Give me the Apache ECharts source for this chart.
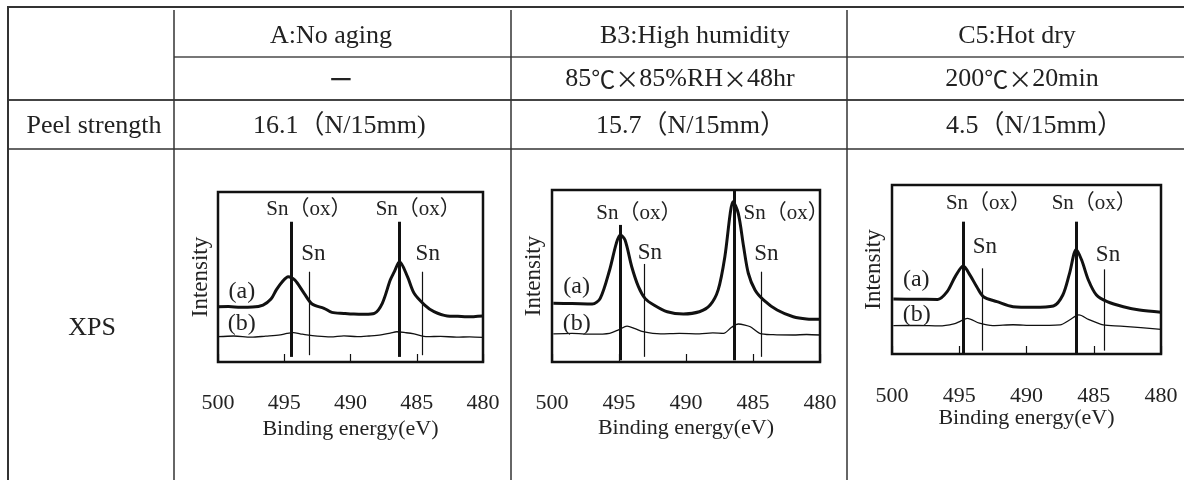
<!DOCTYPE html>
<html><head><meta charset="utf-8">
<script src="https://cdn.jsdelivr.net/npm/echarts@6/dist/echarts.min.js"></script>
<style>html,body{margin:0;padding:0;background:#fff}#c{width:1184px;height:480px}</style>
</head><body><div id="c"></div><script>
// ---------- table content ----------
const columnTitles = ['A:No aging', 'B3:High humidity', 'C5:Hot dry'];
const conditions = ['—', '85℃×85%RH×48hr', '200℃×20min'];
const peelLabels = ['16.1（N/15mm)', '15.7（N/15mm）', '4.5（N/15mm）'];
const rowTitles = ['Peel strength', 'XPS'];
const xTicks = [480, 485, 490, 495, 500];

// ---------- XPS spectra: binding energy (eV) / intensity (a.u.) ----------
const A_aE = [500.0, 499.2, 498.3, 497.4, 496.6, 496.0, 495.6, 495.15, 494.7, 494.2, 493.5, 492.9, 492.0, 491.4, 490.5, 489.75, 488.9, 488.2, 487.6, 487.0, 486.7, 486.3, 485.7, 485.2, 484.4, 483.7, 482.7, 481.9, 481.2, 480.0];
const A_aI = [32.5, 32.6, 32.2, 32.3, 33.5, 37.0, 42.4, 47.2, 50.2, 48.2, 40.4, 34.1, 31.6, 29.2, 28.6, 28.2, 28.1, 28.6, 34.5, 48.2, 53.0, 59.0, 50.2, 40.4, 33.5, 29.6, 27.1, 26.9, 26.6, 27.1];
const A_bE = [500.0, 498.8, 497.5, 496.4, 495.3, 494.8, 494.3, 493.8, 493.3, 492.5, 491.5, 490.5, 489.5, 488.6, 487.7, 487.0, 486.5, 485.8, 485.2, 484.2, 483.2, 482.0, 481.0, 480.0];
const A_bI = [14.9, 15.3, 14.6, 15.2, 15.9, 16.8, 17.3, 16.6, 15.9, 15.2, 14.8, 15.4, 14.9, 15.3, 15.9, 17.0, 17.8, 17.2, 16.5, 14.9, 15.1, 14.6, 14.8, 14.5];

const B_aE = [499.9, 498.5, 497.0, 496.4, 495.7, 495.2, 494.9, 494.55, 494.05, 493.55, 493.06, 492.4, 491.4, 490.2, 489.0, 488.2, 487.6, 487.1, 486.7, 486.5, 486.1, 485.7, 485.35, 484.85, 484.2, 483.2, 482.0, 481.0, 480.0];
const B_aI = [34.1, 34.0, 33.7, 37.0, 53.5, 69.0, 73.8, 70.9, 55.4, 43.8, 37.0, 33.1, 29.2, 27.9, 29.2, 33.1, 41.9, 61.2, 86.4, 93.2, 86.4, 67.0, 51.6, 41.9, 36.0, 30.2, 26.3, 25.0, 24.8];
const B_bE = [499.9, 498.5, 497.0, 495.7, 495.0, 494.4, 493.8, 493.2, 491.9, 490.5, 489.0, 488.0, 487.2, 486.6, 486.1, 485.6, 485.2, 484.5, 483.5, 482.0, 481.0, 480.0];
const B_bI = [16.3, 16.6, 16.2, 16.7, 18.8, 20.9, 19.4, 17.6, 16.3, 16.6, 16.4, 16.9, 16.7, 20.2, 22.1, 21.5, 20.5, 16.7, 15.9, 15.7, 16.0, 15.7];

const C_aE = [499.9, 498.2, 496.6, 495.9, 495.3, 494.7, 494.2, 493.7, 493.2, 492.2, 491.0, 489.5, 488.0, 487.3, 486.8, 486.3, 485.9, 485.4, 484.8, 484.0, 482.8, 481.6, 480.0];
const C_aI = [32.5, 32.4, 32.3, 36.9, 45.8, 52.1, 46.7, 39.8, 33.9, 31.0, 28.0, 27.6, 28.4, 34.9, 47.7, 61.9, 55.6, 43.8, 34.9, 31.0, 28.0, 26.0, 24.7];
const C_bE = [499.9, 498.0, 496.5, 495.4, 494.9, 494.4, 493.5, 492.5, 491.0, 489.5, 487.5, 486.8, 486.1, 485.4, 484.3, 483.0, 481.5, 480.0];
const C_bI = [16.8, 16.9, 16.6, 17.8, 19.5, 21.1, 18.2, 16.8, 17.3, 16.9, 17.2, 20.1, 23.1, 20.5, 17.2, 16.5, 15.6, 14.6];

// reference lines: energy, top intensity, bottom intensity
const A_oxE = [494.5, 486.3], A_oxTop = [82.5, 82.5], A_oxBot = [3, 3];
const A_snE = [493.1, 484.55], A_snTop = [53.1, 53.1], A_snBot = [4, 4];
const B_oxE = [494.9, 486.4], B_oxTop = [79.7, 100], B_oxBot = [1, 1];
const B_snE = [493.1, 484.35], B_snTop = [57.0, 52.5], B_snBot = [3, 3];
const C_oxE = [494.7, 486.3], C_oxTop = [78.3, 78.3], C_oxBot = [0, 0];
const C_snE = [493.3, 484.2], C_snTop = [50.7, 50.1], C_snBot = [2, 2];

// annotation anchors (data coords)
const A_notes = {ox: [[496.36, 90], [488.1, 90]], sn: [[492.8, 63.5], [484.17, 63.5]], a: [498.2, 41.4], b: [498.2, 22.8]};
const B_notes = {ox: [[496.7, 86.6], [485.7, 86.6]], sn: [[492.7, 63.5], [484.0, 62.8]], a: [498.16, 43.8], b: [498.16, 22.5]};
const C_notes = {ox: [[495.99, 89.2], [488.13, 89.2]], sn: [[493.09, 63.5], [483.94, 58.6]], a: [498.2, 43.8], b: [498.16, 23.1]};

// ---------- layout / style ----------
const SERIF = "'Liberation Serif', 'Noto Sans CJK JP', serif";
const INK = '#222';
const grids = [
  {left: 218, top: 192, width: 265, height: 170, labelMargin: 30, nameGap: 56, yGap: 6},
  {left: 552, top: 190, width: 268, height: 172, labelMargin: 30, nameGap: 55, yGap: 7},
  {left: 892, top: 185, width: 269, height: 169, labelMargin: 31, nameGap: 53, yGap: 7}
];
const panels = [
  {aE: A_aE, aI: A_aI, bE: A_bE, bI: A_bI, oxE: A_oxE, oxTop: A_oxTop, oxBot: A_oxBot, snE: A_snE, snTop: A_snTop, snBot: A_snBot, notes: A_notes},
  {aE: B_aE, aI: B_aI, bE: B_bE, bI: B_bI, oxE: B_oxE, oxTop: B_oxTop, oxBot: B_oxBot, snE: B_snE, snTop: B_snTop, snBot: B_snBot, notes: B_notes},
  {aE: C_aE, aI: C_aI, bE: C_bE, bI: C_bI, oxE: C_oxE, oxTop: C_oxTop, oxBot: C_oxBot, snE: C_snE, snTop: C_snTop, snBot: C_snBot, notes: C_notes}
];

const zip = (xs, ys) => xs.map((x, i) => [x, ys[i]]);

const gridOpt = [], xAxes = [], yAxes = [], series = [];
panels.forEach((p, i) => {
  const g = grids[i];
  gridOpt.push({left: g.left, top: g.top, width: g.width, height: g.height, show: true,
    borderColor: '#111', borderWidth: 2.5, backgroundColor: 'transparent', containLabel: false});
  xAxes.push({gridIndex: i, type: 'value', min: xTicks[0], max: xTicks[xTicks.length - 1], interval: 5, inverse: true,
    axisLine: {show: false}, splitLine: {show: false},
    axisTick: {show: true, inside: true, length: 8, lineStyle: {color: '#111', width: 1.2}},
    axisLabel: {margin: g.labelMargin, fontSize: 22, fontFamily: SERIF, color: INK},
    name: 'Binding energy(eV)', nameLocation: 'middle', nameGap: g.nameGap, nameMoveOverlap: false,
    nameTextStyle: {fontSize: 22, fontFamily: SERIF, color: INK}});
  yAxes.push({gridIndex: i, type: 'value', min: 0, max: 100,
    axisLine: {show: false}, axisTick: {show: false}, axisLabel: {show: false}, splitLine: {show: false},
    name: 'Intensity', nameLocation: 'middle', nameGap: g.yGap, nameRotate: 90, nameMoveOverlap: false,
    nameTextStyle: {fontSize: 23, fontFamily: SERIF, color: INK}});

  const lines = [];
  p.oxE.forEach((e, k) => lines.push([{coord: [e, p.oxTop[k]], lineStyle: {width: 3, color: '#111', type: 'solid'}}, {coord: [e, p.oxBot[k]]}]));
  p.snE.forEach((e, k) => lines.push([{coord: [e, p.snTop[k]], lineStyle: {width: 1.2, color: '#111', type: 'solid'}}, {coord: [e, p.snBot[k]]}]));

  const txt = {fontFamily: SERIF, color: INK};
  const pts = [];
  p.notes.ox.forEach(c => pts.push({coord: c, label: Object.assign({show: true, formatter: 'Sn（ox）', position: 'right', distance: 0, fontSize: 21}, txt)}));
  p.notes.sn.forEach(c => pts.push({coord: c, label: Object.assign({show: true, formatter: 'Sn', position: 'inside', fontSize: 23}, txt)}));
  pts.push({coord: p.notes.a, label: Object.assign({show: true, formatter: '(a)', position: 'inside', fontSize: 24}, txt)});
  pts.push({coord: p.notes.b, label: Object.assign({show: true, formatter: '(b)', position: 'inside', fontSize: 24}, txt)});

  series.push({type: 'line', name: '(a)', xAxisIndex: i, yAxisIndex: i, data: zip(p.aE, p.aI),
    showSymbol: false, smooth: 0.3, lineStyle: {color: '#111', width: 3}, z: 3,
    markLine: {silent: true, symbol: ['none', 'none'], label: {show: false}, data: lines},
    markPoint: {silent: true, symbol: 'circle', symbolSize: 0, itemStyle: {color: 'transparent'}, data: pts}});
  series.push({type: 'line', name: '(b)', xAxisIndex: i, yAxisIndex: i, data: zip(p.bE, p.bI),
    showSymbol: false, smooth: 0.3, lineStyle: {color: '#111', width: 1.3}, z: 2});
});

// ---------- table graphics ----------
const g = [];
const hLine = (x1, x2, y, c, w) => g.push({type: 'line', shape: {x1, y1: y, x2, y2: y}, style: {stroke: c, lineWidth: w}, silent: true});
const vLine = (x, y1, y2, c, w) => g.push({type: 'line', shape: {x1: x, y1, x2: x, y2}, style: {stroke: c, lineWidth: w}, silent: true});
hLine(8, 1184, 7, '#333', 2);
hLine(174, 1184, 57, '#777', 2);
hLine(8, 1184, 100, '#444', 2);
hLine(8, 1184, 149, '#666', 2);
vLine(8, 6, 480, '#333', 2);
vLine(174, 10, 480, '#333', 1.5);
vLine(511, 10, 480, '#333', 1.5);
vLine(847, 10, 480, '#333', 1.5);

const T = (text, x, y, opts) => g.push({type: 'text', silent: true, style: Object.assign({text, x, y, align: 'center', verticalAlign: 'middle',
  fontSize: 26, fontFamily: SERIF, fill: INK}, opts || {})});
const titleX = [331, 695, 1017];
columnTitles.forEach((t, i) => T(t, titleX[i], 36));
const richCond = s => s.replace(/([℃×]+)/g, '{g|$1}');
const condX = [341, 680, 1022];
conditions.forEach((t, i) => {
  if (i === 0) T(t, condX[i], 77, {fontFamily: "'Noto Sans CJK JP', sans-serif", fontWeight: 'bold', fontSize: 24});
  else T(richCond(t), condX[i], 79, {rich: {g: {fontFamily: "'Noto Sans CJK JP', sans-serif", fontSize: 24, fill: INK}}});
});
T(rowTitles[0], 94, 126);
const peelX = [253, 596, 946];
peelLabels.forEach((t, i) => T(t, peelX[i], 126, {align: 'left'}));
T(rowTitles[1], 92, 328);

const chart = echarts.init(document.getElementById('c'), null, {renderer: 'canvas'});
chart.setOption({
  animation: false,
  backgroundColor: '#fff',
  grid: gridOpt, xAxis: xAxes, yAxis: yAxes, series,
  graphic: {elements: g}
});
</script></body></html>
